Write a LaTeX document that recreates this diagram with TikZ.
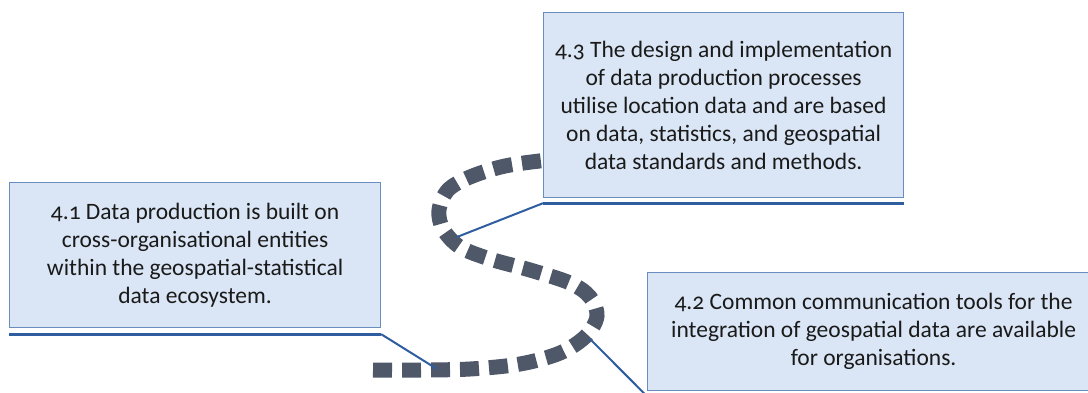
\documentclass[tikz,border=0pt]{standalone}
\usepackage{fontspec}
\setmainfont[Numbers=OldStyle]{Carlito}
\definecolor{boxfill}{HTML}{DAE6F5}
\definecolor{boxline}{HTML}{6A8DC0}
\definecolor{uline}{HTML}{2E5E9F}
\definecolor{dashc}{HTML}{4E5868}
\definecolor{txt}{HTML}{1A1A1A}
\tikzset{
  box/.style={draw=boxline, line width=1.2pt, fill=boxfill, inner sep=0pt, anchor=north west},
  boxtext/.style={text=txt, align=center, font=\fontsize{23.5}{28}\selectfont},
  underl/.style={draw=uline, line width=3pt},
  conn/.style={draw=uline, line width=2pt},
  road/.style={draw=dashc, line width=15pt, dash pattern=on 19pt off 10pt}
}
\begin{document}
\begin{tikzpicture}[x=1pt,y=-1pt]
\useasboundingbox (0,0) rectangle (1088,392);
\clip (0,0) rectangle (1088,392);
% winding road
\draw[road] plot[smooth, tension=0.55] coordinates {
 (373,370) (420,370) (470,369) (520,364) (560,353) (586,336) (597,316)
 (590,297) (570,283) (530,270) (490,259) (460,247) (443,229) (439,210)
 (448,190) (470,177) (505,166) (548,160)};
\coordinate (c1) at (437,369);
\coordinate (c2) at (590,339);
\coordinate (c3) at (457,237);
% boxes
\node[box, minimum width=371pt, minimum height=145pt] (b41) at (9,182) {};
\node[boxtext] (t41) at (b41.center) {4.1 Data production is built on\\cross-organisational entities\\within the geospatial-statistical\\data ecosystem.};
\node[box, minimum width=360pt, minimum height=185pt] (b43) at (543,12) {};
\node[boxtext] (t43) at (b43.center) {4.3 The design and implementation\\of data production processes\\utilise location data and are based\\on data, statistics, and geospatial\\data standards and methods.};
\node[box, minimum width=452pt, minimum height=118pt] (b42) at (647,272) {};
\node[boxtext] (t42) at (b42.center) {4.2 Common communication tools for the\\integration of geospatial data are available\\for organisations.};
% underlines
\draw[underl] ([yshift=-6pt]b41.south west) -- ([yshift=-6pt]b41.south east);
\draw[underl] ([yshift=-5pt]b43.south west) -- ([yshift=-5pt]b43.south east);
\draw[underl] ([yshift=-5pt]b42.south west) -- ([yshift=-5pt]b42.south east);
% connectors
\draw[conn] ([yshift=-6pt]b41.south east) -- (c1);
\draw[conn] ([yshift=-5pt]b43.south west) -- (c3);
\draw[conn] ([yshift=-5pt]b42.south west) -- (c2);
\end{tikzpicture}
\end{document}
